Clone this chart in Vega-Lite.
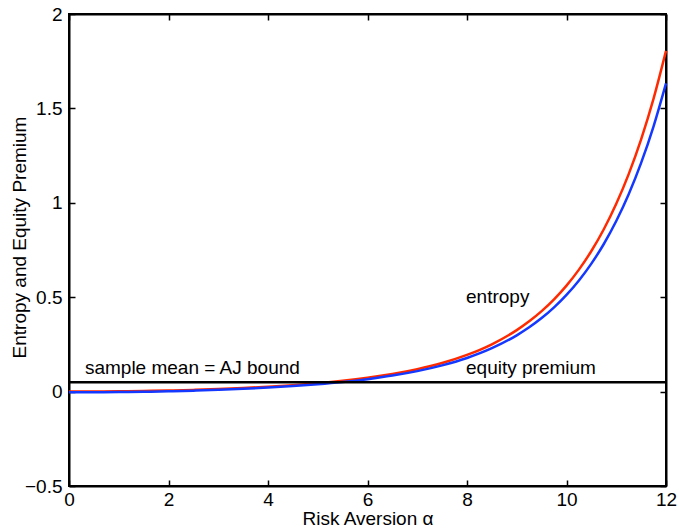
{
  "$schema": "https://vega.github.io/schema/vega-lite/v6.json",
  "width": 597,
  "height": 472,
  "autosize": "none",
  "padding": {"left": 69, "top": 14, "right": 13, "bottom": 42},
  "background": "white",
  "config": {
    "font": "Liberation Sans",
    "view": {"stroke": "black", "strokeWidth": 2},
    "axis": {
      "grid": false,
      "domainColor": "black",
      "domainWidth": 2,
      "labelColor": "black",
      "labelFontSize": 19,
      "labelFlush": false,
      "titleColor": "black",
      "titleFontSize": 19,
      "titleFontWeight": "normal"
    }
  },
  "datasets": {
    "curves": [
      {"alpha": 0, "value": 0.0, "series": "entropy"},
      {"alpha": 0.5, "value": 0.0003, "series": "entropy"},
      {"alpha": 1, "value": 0.0014, "series": "entropy"},
      {"alpha": 1.5, "value": 0.0032, "series": "entropy"},
      {"alpha": 2, "value": 0.0057, "series": "entropy"},
      {"alpha": 2.5, "value": 0.0091, "series": "entropy"},
      {"alpha": 3, "value": 0.0135, "series": "entropy"},
      {"alpha": 3.5, "value": 0.019, "series": "entropy"},
      {"alpha": 4, "value": 0.0258, "series": "entropy"},
      {"alpha": 4.5, "value": 0.0342, "series": "entropy"},
      {"alpha": 5, "value": 0.0445, "series": "entropy"},
      {"alpha": 5.5, "value": 0.0572, "series": "entropy"},
      {"alpha": 6, "value": 0.0731, "series": "entropy"},
      {"alpha": 6.5, "value": 0.0931, "series": "entropy"},
      {"alpha": 7, "value": 0.1186, "series": "entropy"},
      {"alpha": 7.5, "value": 0.1514, "series": "entropy"},
      {"alpha": 8, "value": 0.1943, "series": "entropy"},
      {"alpha": 8.5, "value": 0.2507, "series": "entropy"},
      {"alpha": 9, "value": 0.3256, "series": "entropy"},
      {"alpha": 9.25, "value": 0.3721, "series": "entropy"},
      {"alpha": 9.5, "value": 0.426, "series": "entropy"},
      {"alpha": 9.75, "value": 0.4885, "series": "entropy"},
      {"alpha": 10, "value": 0.5613, "series": "entropy"},
      {"alpha": 10.25, "value": 0.646, "series": "entropy"},
      {"alpha": 10.5, "value": 0.7448, "series": "entropy"},
      {"alpha": 10.75, "value": 0.86, "series": "entropy"},
      {"alpha": 11, "value": 0.9947, "series": "entropy"},
      {"alpha": 11.25, "value": 1.1521, "series": "entropy"},
      {"alpha": 11.5, "value": 1.3362, "series": "entropy"},
      {"alpha": 11.75, "value": 1.5519, "series": "entropy"},
      {"alpha": 12, "value": 1.8045, "series": "entropy"},
      {"alpha": 0, "value": -0.004, "series": "equity premium"},
      {"alpha": 0.5, "value": -0.0037, "series": "equity premium"},
      {"alpha": 1, "value": -0.0026, "series": "equity premium"},
      {"alpha": 1.5, "value": -0.0009, "series": "equity premium"},
      {"alpha": 2, "value": 0.0016, "series": "equity premium"},
      {"alpha": 2.5, "value": 0.005, "series": "equity premium"},
      {"alpha": 3, "value": 0.0093, "series": "equity premium"},
      {"alpha": 3.5, "value": 0.0146, "series": "equity premium"},
      {"alpha": 4, "value": 0.0211, "series": "equity premium"},
      {"alpha": 4.5, "value": 0.0292, "series": "equity premium"},
      {"alpha": 5, "value": 0.039, "series": "equity premium"},
      {"alpha": 5.5, "value": 0.051, "series": "equity premium"},
      {"alpha": 6, "value": 0.066, "series": "equity premium"},
      {"alpha": 6.5, "value": 0.0847, "series": "equity premium"},
      {"alpha": 7, "value": 0.1084, "series": "equity premium"},
      {"alpha": 7.5, "value": 0.1388, "series": "equity premium"},
      {"alpha": 8, "value": 0.1782, "series": "equity premium"},
      {"alpha": 8.5, "value": 0.2298, "series": "equity premium"},
      {"alpha": 9, "value": 0.2981, "series": "equity premium"},
      {"alpha": 9.25, "value": 0.3404, "series": "equity premium"},
      {"alpha": 9.5, "value": 0.3893, "series": "equity premium"},
      {"alpha": 9.75, "value": 0.446, "series": "equity premium"},
      {"alpha": 10, "value": 0.5119, "series": "equity premium"},
      {"alpha": 10.25, "value": 0.5885, "series": "equity premium"},
      {"alpha": 10.5, "value": 0.6778, "series": "equity premium"},
      {"alpha": 10.75, "value": 0.7818, "series": "equity premium"},
      {"alpha": 11, "value": 0.9033, "series": "equity premium"},
      {"alpha": 11.25, "value": 1.0452, "series": "equity premium"},
      {"alpha": 11.5, "value": 1.2112, "series": "equity premium"},
      {"alpha": 11.75, "value": 1.4054, "series": "equity premium"},
      {"alpha": 12, "value": 1.6327, "series": "equity premium"},
      {"alpha": 0, "value": 0.049, "series": "sample mean"},
      {"alpha": 12, "value": 0.049, "series": "sample mean"}
    ],
    "labels": [
      {"alpha": 0.32, "value": 0.125, "text": "sample mean = AJ bound"},
      {"alpha": 7.98, "value": 0.5, "text": "entropy"},
      {"alpha": 7.98, "value": 0.125, "text": "equity premium"}
    ]
  },
  "layer": [
    {
      "data": {"name": "curves"},
      "mark": {"type": "line", "strokeWidth": 2.5, "interpolate": "monotone"},
      "encoding": {
        "x": {
          "field": "alpha",
          "type": "quantitative",
          "scale": {"domain": [0, 12], "nice": false, "zero": false},
          "axis": {"orient": "bottom", "values": [0, 2, 4, 6, 8, 10, 12], "tickSize": -6, "tickColor": "black", "tickWidth": 1.5, "labelPadding": 10, "title": "Risk Aversion α", "titleY": 32, "titleBaseline": "middle"}
        },
        "y": {
          "field": "value",
          "type": "quantitative",
          "scale": {"domain": [-0.5, 2], "nice": false, "zero": false},
          "axis": {"orient": "left", "values": [-0.5, 0, 0.5, 1, 1.5, 2], "format": "~g", "tickSize": -6, "tickColor": "black", "tickWidth": 1.5, "labelPadding": 13, "title": "Entropy and Equity Premium", "titleX": -50, "titleY": 223, "titleBaseline": "middle", "titleAlign": "center", "titleAngle": 270}
        },
        "color": {
          "field": "series",
          "type": "nominal",
          "scale": {"domain": ["entropy", "equity premium", "sample mean"], "range": ["#ff2a00", "#1438ff", "#000000"]},
          "legend": null
        }
      }
    },
    {
      "data": {"name": "labels"},
      "mark": {"type": "text", "align": "left", "baseline": "middle", "fontSize": 19, "color": "black"},
      "encoding": {
        "x": {
          "field": "alpha",
          "type": "quantitative",
          "axis": {"orient": "top", "values": [0, 2, 4, 6, 8, 10, 12], "labels": false, "title": null, "tickSize": -6, "tickColor": "black", "tickWidth": 1.5}
        },
        "y": {
          "field": "value",
          "type": "quantitative",
          "axis": {"orient": "right", "values": [-0.5, 0, 0.5, 1, 1.5, 2], "labels": false, "title": null, "tickSize": -6, "tickColor": "black", "tickWidth": 1.5}
        },
        "text": {"field": "text"}
      }
    }
  ],
  "resolve": {"axis": {"x": "independent", "y": "independent"}}
}
